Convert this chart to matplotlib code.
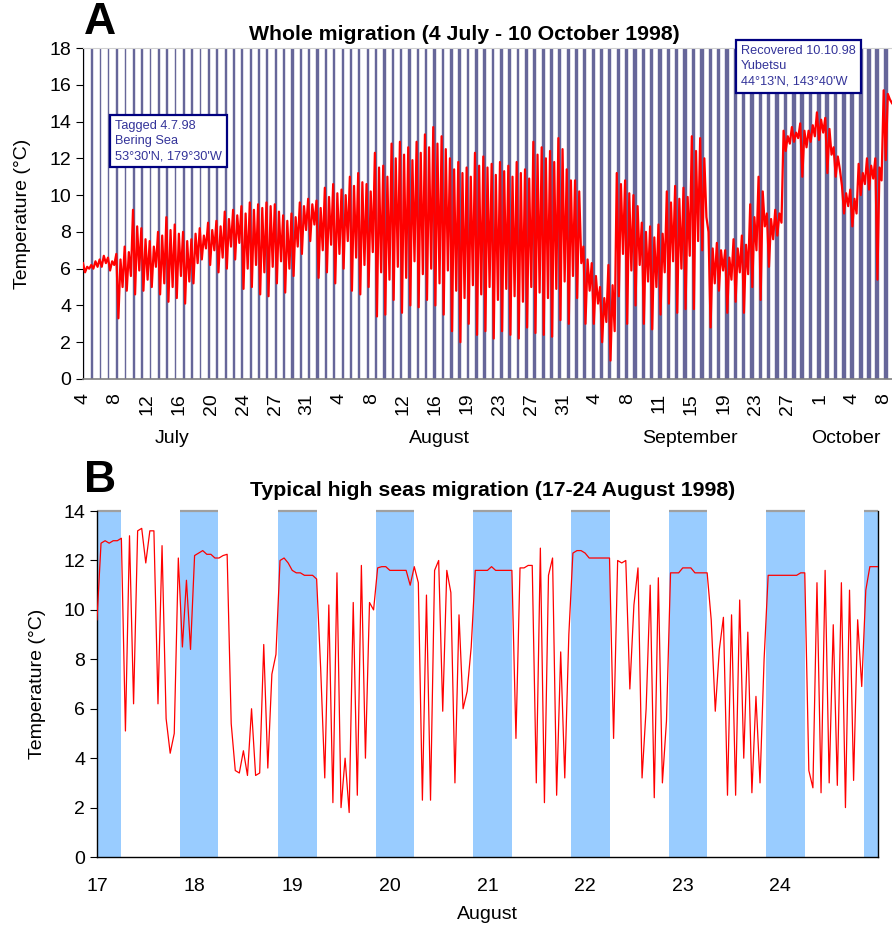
import numpy as np
import matplotlib.pyplot as plt
import matplotlib.transforms as mtransforms

plt.rcParams['font.family'] = ['Liberation Sans', 'DejaVu Sans']

# ---- panel A: whole migration, temperature every 6 h from 4 July (deg C)
temp_whole = [
    6.3, 5.8, 6.1, 6.0, 6.2, 6.0, 6.4, 6.1, 6.5, 6.1, 6.7, 6.3, 6.6, 5.9, 6.4, 6.2,
    6.8, 3.3, 6.5, 5.0, 7.2, 4.8, 6.9, 5.6, 9.2, 4.6, 8.3, 5.9, 8.2, 4.8, 7.6, 5.4,
    7.5, 5.0, 7.2, 6.1, 8.0, 4.6, 7.8, 5.2, 8.8, 4.2, 8.1, 5.0, 8.4, 4.4, 7.9, 5.6,
    8.0, 4.1, 7.5, 5.3, 7.6, 5.2, 7.9, 6.3, 8.2, 6.5, 7.8, 7.1, 8.5, 6.2, 8.1, 7.0,
    8.6, 5.8, 8.3, 6.6, 9.1, 6.0, 8.7, 7.2, 9.2, 6.5, 8.9, 7.4, 9.4, 4.9, 9.0, 6.0,
    9.6, 5.0, 9.2, 6.2, 9.5, 4.6, 9.3, 5.8, 9.6, 4.5, 9.4, 6.1, 9.5, 5.2, 9.1, 6.4,
    8.9, 4.7, 8.6, 6.0, 9.0, 5.6, 8.8, 7.2, 9.6, 6.8, 9.4, 8.1, 9.8, 7.5, 9.5, 8.4,
    9.7, 5.5, 9.3, 7.0, 10.4, 5.8, 9.9, 7.3, 10.6, 5.2, 10.1, 6.8, 10.3, 6.0, 10.0, 7.5,
    11.0, 4.8, 10.5, 6.6, 11.2, 4.6, 10.7, 6.2, 10.6, 5.0, 10.2, 6.9, 12.3, 3.4, 11.5, 5.8,
    11.6, 3.5, 11.0, 5.4, 12.8, 4.3, 12.0, 6.1, 12.9, 3.6, 12.2, 5.5, 12.6, 4.0, 11.9, 6.4,
    12.9, 3.9, 12.3, 5.7, 13.3, 4.3, 12.6, 6.0, 13.7, 4.0, 12.8, 5.2, 13.2, 3.5, 12.5, 5.9,
    12.0, 2.6, 11.4, 4.8, 11.8, 2.0, 11.2, 4.4, 11.5, 3.0, 11.0, 5.1, 12.3, 2.4, 11.6, 4.6,
    12.1, 2.6, 11.5, 5.0, 11.7, 2.2, 11.1, 4.3, 11.8, 2.6, 11.3, 4.9, 11.6, 2.4, 11.0, 4.5,
    11.8, 2.2, 11.2, 4.2, 11.4, 2.8, 10.9, 5.0, 12.9, 2.5, 12.2, 4.7, 12.6, 2.4, 12.0, 4.4,
    12.4, 2.3, 11.8, 4.9, 13.1, 3.2, 12.5, 5.3, 11.4, 3.0, 10.8, 5.6, 10.8, 4.4, 10.2, 6.3,
    7.2, 3.0, 6.5, 4.8, 6.3, 3.0, 5.6, 4.1, 5.0, 2.0, 4.4, 3.1, 6.2, 1.0, 5.1, 2.6,
    11.2, 4.5, 10.6, 6.8, 10.8, 3.0, 10.1, 5.9, 10.0, 4.0, 9.4, 6.2, 8.5, 3.0, 8.0, 5.3,
    8.3, 2.7, 7.7, 5.0, 8.4, 3.5, 7.9, 5.8, 10.2, 4.1, 9.6, 6.4, 10.5, 3.6, 9.8, 6.0,
    10.4, 3.8, 9.9, 6.7, 13.2, 3.8, 12.4, 7.5, 13.1, 7.0, 12.0, 8.8, 8.0, 2.8, 7.1, 5.2,
    7.4, 4.8, 7.0, 5.9, 7.0, 3.6, 6.6, 5.4, 7.6, 4.2, 7.1, 5.8, 7.8, 3.6, 7.3, 5.7,
    9.5, 5.0, 8.8, 7.0, 11.0, 4.3, 10.2, 8.3, 9.0, 6.1, 8.7, 7.6, 9.2, 7.8, 9.0, 8.5,
    13.5, 12.4, 13.2, 12.8, 13.7, 12.9, 13.4, 13.1, 13.9, 11.0, 13.5, 12.6, 13.5, 12.9, 13.8, 13.2,
    14.5, 13.0, 14.1, 13.4, 14.2, 11.2, 13.6, 12.2, 12.6, 11.0, 12.1, 11.4, 10.5, 9.0, 10.1, 9.4,
    10.3, 8.3, 9.8, 9.0, 11.7, 10.0, 11.2, 10.6, 12.0, 10.3, 11.6, 10.9, 12.0, 5.4, 11.5, 10.8,
    15.7, 11.9, 15.5, 15.2, 15.0,
]
date_labels = ['4', '8', '12', '16', '20', '24', '27', '31',
               '4', '8', '12', '16', '19', '23', '27', '31',
               '4', '8', '11', '15', '19', '23', '27', '1', '4', '8']
month_names = ['July', 'August', 'September', 'October']
month_pos = [10.7, 42.8, 72.8, 91.5]
# night length (hours) for each labelled interval
night_hours = [4.3, 4.5, 4.8, 5.0, 5.3, 5.6, 5.9, 6.2, 6.5, 6.8, 7.1, 7.4, 7.7,
               7.9, 8.2, 8.5, 8.8, 9.1, 9.4, 9.7, 10.0, 10.3, 10.6, 10.9, 11.2, 11.5]

# ---- panel B: hourly temperature 17-25 August (deg C)
temp_high_seas = [
    9.6, 12.7, 12.8, 12.7, 12.8, 12.8, 12.9, 5.1, 13.0, 6.2, 13.2, 13.3,
    11.9, 13.2, 13.2, 6.2, 12.6, 5.6, 4.2, 5.0, 12.1, 8.5, 11.2, 8.4,
    12.2, 12.3, 12.4, 12.25, 12.25, 12.1, 12.1, 12.2, 12.25, 5.4, 3.5, 3.4,
    4.3, 3.3, 6.0, 3.3, 3.4, 8.6, 3.6, 7.4, 8.2, 12.0, 12.1, 11.9,
    11.6, 11.5, 11.5, 11.4, 11.4, 11.4, 11.25, 7.6, 3.2, 10.2, 2.2, 11.5,
    2.0, 4.0, 1.8, 10.3, 2.5, 11.8, 4.0, 10.3, 10.0, 11.7, 11.75, 11.75,
    11.6, 11.6, 11.6, 11.6, 11.6, 11.0, 11.75, 11.1, 2.3, 10.6, 2.3, 11.6,
    12.0, 5.9, 11.6, 10.7, 3.0, 9.8, 6.0, 6.7, 8.5, 11.6, 11.6, 11.6,
    11.6, 11.75, 11.6, 11.6, 11.6, 11.6, 11.6, 4.8, 11.7, 11.7, 11.8, 11.8,
    3.0, 12.5, 2.2, 11.4, 12.1, 2.5, 8.3, 3.2, 9.0, 12.3, 12.4, 12.4,
    12.3, 12.1, 12.1, 12.1, 12.1, 12.1, 12.1, 4.8, 12.0, 11.9, 12.0, 6.8,
    10.2, 11.7, 3.2, 6.0, 11.0, 2.4, 11.3, 3.0, 5.5, 11.5, 11.5, 11.5,
    11.7, 11.7, 11.7, 11.5, 11.5, 11.5, 11.5, 9.6, 5.9, 8.4, 9.7, 2.5,
    9.8, 2.5, 10.4, 4.0, 9.1, 2.6, 6.5, 3.0, 8.0, 11.4, 11.4, 11.4,
    11.4, 11.4, 11.4, 11.4, 11.4, 11.5, 11.5, 3.5, 2.8, 11.1, 2.6, 11.6,
    3.0, 9.4, 2.9, 11.1, 2.0, 10.8, 3.1, 9.6, 6.9, 10.8, 11.75, 11.75,
    11.75,
]
day_labels = ['17', '18', '19', '20', '21', '22', '23', '24']
# sunset on 16..24 Aug and sunrise on 17..25 Aug (hour of day)
sunset = [20.5, 20.4, 20.5, 20.6, 20.5, 20.5, 20.6, 20.5, 20.6]
sunrise = [5.9, 5.8, 6.0, 6.0, 6.0, 6.1, 6.0, 6.1, 6.0]

navy = '#333399'
fs = 14

fig = plt.figure(figsize=(8.92, 9.25), dpi=100)

# ================= A =================
ax1 = fig.add_axes([0.093, 0.5903, 0.907, 0.3578])
n_days = 97
for d in range(n_days):
    w = night_hours[min(int(d / 3.84), len(night_hours) - 1)] / 24
    ax1.axvspan(d, d + w, facecolor='#666699', edgecolor='#666699', lw=0.3, zorder=1)

t_whole = np.arange(len(temp_whole)) * 0.25
ax1.plot(t_whole, temp_whole, color='#ff0000', lw=1.6, zorder=3)

ax1.set_xlim(0, n_days)
ax1.set_ylim(0, 18)
ax1.set_yticks(np.arange(0, 19, 2))
ax1.set_xticks(np.arange(len(date_labels)) * 3.84)
ax1.set_xticklabels(date_labels, rotation=90)
ax1.tick_params(axis='x', length=0, pad=10, labelsize=fs)
ax1.tick_params(axis='y', direction='out', length=5, labelsize=fs, color='black')
ax1.spines['right'].set_visible(False)
ax1.spines['top'].set_color('#d0d0d0')
ax1.spines['bottom'].set_color('#808080')
ax1.spines['bottom'].set_linewidth(1.2)
ax1.spines['left'].set_color('black')
ax1.set_ylabel('Temperature (°C)', fontsize=fs)
ax1.yaxis.set_label_coords(-0.064, 0.5)

trans1 = mtransforms.blended_transform_factory(ax1.transData, ax1.transAxes)
for name, pos in zip(month_names, month_pos):
    ax1.text(pos, -0.18, name, transform=trans1, ha='center', va='center', fontsize=fs)

box = dict(boxstyle='square,pad=0.4', facecolor='white', edgecolor='#000080', linewidth=1.6)
ax1.text(3.9, 14.1, "Tagged 4.7.98\nBering Sea\n53°30'N, 179°30'W", color=navy,
         fontsize=9.2, ha='left', va='top', bbox=box, zorder=5, linespacing=1.35)
ax1.text(78.9, 18.15, "Recovered 10.10.98\nYubetsu\n44°13'N, 143°40'W", color=navy,
         fontsize=9.2, ha='left', va='top', bbox=box, zorder=5, linespacing=1.35,
         clip_on=False)

fig.text(0.520, 1 - 34 / 925, 'Whole migration (4 July - 10 October 1998)',
         ha='center', va='center', fontsize=15.3, fontweight='bold')
fig.text(84 / 892, 1 - 23 / 925, 'A', ha='left', va='center', fontsize=32, fontweight='bold')

# ================= B =================
ax2 = fig.add_axes([0.1087, 0.0735, 0.8756, 0.374])
for i in range(len(sunset)):
    start = 16 + i + sunset[i] / 24
    end = 17 + i + sunrise[i] / 24
    ax2.axvspan(start, end, color='#99ccff', lw=0, zorder=1)
    ax2.hlines(14, max(start, 17), min(end, 25), color='#a0a0a0', lw=1.6, zorder=2,
               clip_on=False)

t_hs = 17 + np.arange(len(temp_high_seas)) / 24
ax2.plot(t_hs, temp_high_seas, color='#ff0000', lw=0.9, zorder=3)

ax2.set_xlim(17, 25)
ax2.set_ylim(0, 14)
ax2.set_yticks(np.arange(0, 15, 2))
ax2.set_xticks(np.arange(17, 25))
ax2.set_xticklabels(day_labels)
ax2.tick_params(axis='x', length=0, pad=15, labelsize=fs)
ax2.tick_params(axis='y', direction='out', length=5, labelsize=fs)
ax2.spines['top'].set_visible(False)
for s in ['left', 'bottom', 'right']:
    ax2.spines[s].set_color('black')
    ax2.spines[s].set_linewidth(1.0)
ax2.set_ylabel('Temperature (°C)', fontsize=fs)
ax2.yaxis.set_label_coords(-0.065, 0.5)
ax2.set_xlabel('August', fontsize=fs, labelpad=8)

fig.text(0.552, 1 - 490 / 925, 'Typical high seas migration (17-24 August 1998)',
         ha='center', va='center', fontsize=15.3, fontweight='bold')
fig.text(84 / 892, 1 - 481 / 925, 'B', ha='left', va='center', fontsize=32, fontweight='bold')

fig.savefig('out.png', dpi=100)
